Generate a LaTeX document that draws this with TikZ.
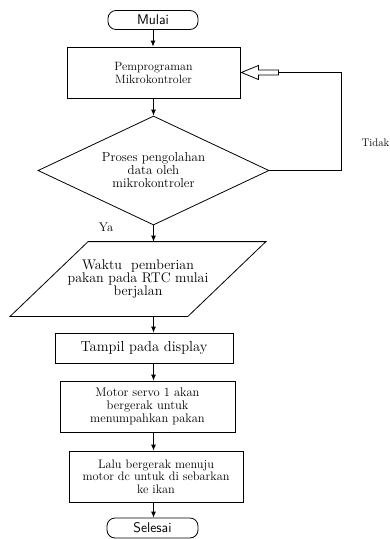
\documentclass[tikz,border=0pt]{standalone}
\usetikzlibrary{shapes.geometric,arrows.meta}
\begin{document}
\begin{tikzpicture}[x=1pt,y=-1pt,line width=.8pt,
		terminal/.style={draw,rounded corners=8pt,minimum width=90pt,minimum height=19pt,inner sep=0pt,font=\sffamily\fontsize{14}{15}\selectfont},
		kotak/.style={draw,align=center,inner sep=0pt,minimum width=#1},
		panah/.style={-{Latex[length=6pt,width=5pt]}}]
	\useasboundingbox (0,0) rectangle (389,539);
	\node[terminal] (mulai) at (153,20) {Mulai};
	\node[kotak=173pt,minimum height=51pt,font=\fontsize{12}{13}\selectfont] (prog) at (153.5,72.5) {Pemprograman\\Mikrokontroler};
	\node[draw,diamond,aspect=2.12,minimum width=231pt,minimum height=109pt,inner sep=0pt,align=center,font=\fontsize{13}{13}\selectfont] (olah) at (153.5,170.5) {Proses pengolahan\\data oleh\\mikrokontroler};
	\node[align=center,minimum width=177pt,minimum height=74pt,inner sep=0pt,font=\fontsize{14}{13}\selectfont] (waktu) at (138,279) {Waktu~ pemberian\\pakan pada RTC mulai\\berjalan};
	\draw ([xshift=39pt]waktu.north west) -- ([xshift=39pt]waktu.north east) -- ([xshift=-39pt]waktu.south east) -- ([xshift=-39pt]waktu.south west) -- cycle;
	\node[kotak=178pt,minimum height=30pt,font=\fontsize{14.5}{15}\selectfont] (tampil) at (144,348) {Tampil pada display};
	\node[kotak=175pt,minimum height=51pt,font=\fontsize{12.5}{13}\selectfont] (servo) at (147.5,406.5) {Motor servo 1 akan\\bergerak untuk\\menumpahkan pakan};
	\node[kotak=174pt,minimum height=51pt,font=\fontsize{12.3}{12.5}\selectfont] (lalu) at (156,476.5) {Lalu bergerak menuju\\motor dc untuk di sebarkan\\ke ikan};
	\node[terminal,minimum width=91pt,minimum height=20pt] (selesai) at (152.5,528) {Selesai};
	\node[font=\fontsize{12.5}{13}\selectfont] (ya) at (106,227) {Ya};
	\node[font=\fontsize{11}{12}\selectfont] (tidak) at (375.5,143) {Tidak};
	% alur utama
	\draw[panah] (mulai.south) -- (mulai.south |- prog.north);
	\draw[panah] (olah.north |- prog.south) -- (olah.north);
	\draw[panah] (olah.south) -- (olah.south |- waktu.north);
	\draw[panah] (olah.south |- waktu.south) -- (olah.south |- tampil.north);
	\draw[panah] (olah.south |- tampil.south) -- (olah.south |- servo.north);
	\draw[panah] (olah.south |- servo.south) -- (olah.south |- lalu.north);
	\draw[panah] (olah.south |- lalu.south) -- (olah.south |- selesai.north);
	% kembali ke pemrograman
	\draw (olah.east) -- ++(72,0) |- ([xshift=38pt]prog.east);
	\begin{scope}[shift={(prog.east)}]
		\draw (38,-2.5) -- (18,-2.5) -- (18,-7) -- (1,0) -- (18,7) -- (18,2.5) -- (38,2.5) -- cycle;
	\end{scope}
\end{tikzpicture}
\end{document}
